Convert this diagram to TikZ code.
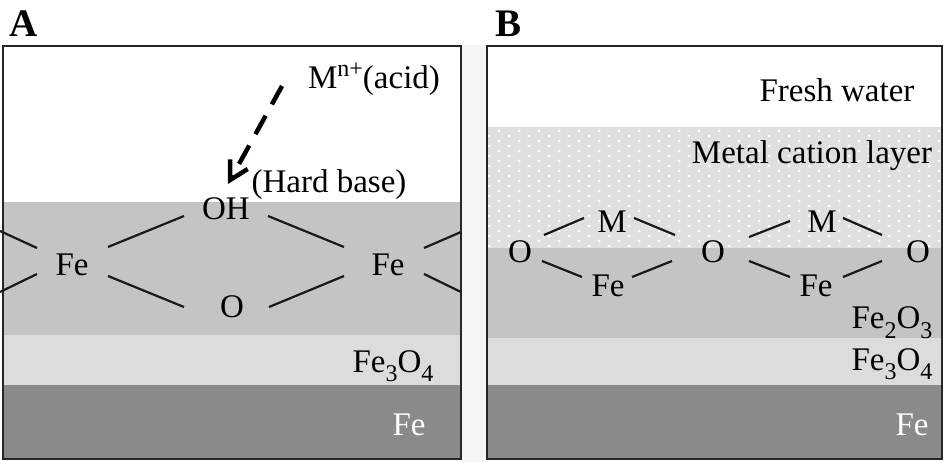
\documentclass[tikz,border=0pt]{standalone}
\usepackage{fontspec}
\setmainfont{Liberation Serif}
\usetikzlibrary{calc,arrows.meta,positioning}
\definecolor{oxide}{HTML}{C3C4C5}
\definecolor{magnetite}{HTML}{DCDCDC}
\definecolor{iron}{HTML}{8A8A8A}
\definecolor{cation}{HTML}{DFDFDF}
\newcommand{\lowr}[1]{\raisebox{-0.3em}{\fontsize{24}{24}\selectfont #1}}
\tikzset{
    chem/.style={inner sep=0pt, text height=22pt, text depth=0pt, font=\fontsize{33}{33}\selectfont, text=black},
    lbl/.style={inner sep=0pt, anchor=base, font=\fontsize{33}{33}\selectfont, text=black},
    panel/.style={draw=black!85, line width=2.2pt},
    bond/.style={line width=2.2pt, black!90},
    tag/.style={inner sep=0pt, font=\fontsize{39}{39}\selectfont\bfseries}
}
\begin{document}
\begin{tikzpicture}[x=1pt,y=-1pt]
    \useasboundingbox (0,0) rectangle (945,462);
    \fill[black!4] (462,45) rectangle (486,462);
    % panel A
    \fill[oxide] (3,202) rectangle (461,335);
    \fill[magnetite] (3,335) rectangle (461,385);
    \fill[iron] (3,385) rectangle (461,459);
    \draw[panel] (3,46) rectangle (461,459);
    % panel B
    \fill[cation] (487,127) rectangle (942,248);
    \begin{scope}
        \clip (487,127) rectangle (942,248);
        \foreach \r in {0,...,23}{
            \foreach \c in {0,...,23}{
                \fill[white] ({489+20*\c+10*mod(\r+1,2)},{131+5*\r}) circle (1.5pt);
            }
        }
    \end{scope}
    \fill[oxide] (487,248) rectangle (942,338);
    \fill[magnetite] (487,338) rectangle (942,385);
    \fill[iron] (487,385) rectangle (942,459);
    \draw[panel] (487,46) rectangle (942,459);
    % labels
    \node[tag] (tagA) at (24,24) {A};
    \node[tag] (tagB) at (508,24) {B};
    \node[lbl] (acid) at (374,89) {M\raisebox{0.38em}{\fontsize{24}{24}\selectfont n+}(acid)};
    \node[lbl] (hard) at (329,193) {(Hard base)};
    \node[lbl] (ma3) at (393,372) {Fe\lowr{3}O\lowr{4}};
    \node[lbl,text=white] (ma4) at (409,435) {Fe};
    \node[lbl] (fresh) at (837,102) {Fresh water};
    \node[lbl] (metal) at (812,164) {Metal cation layer};
    \node[lbl] (mb2) at (892,329) {Fe\lowr{2}O\lowr{3}};
    \node[lbl] (mb3) at (892,370) {Fe\lowr{3}O\lowr{4}};
    \node[lbl,text=white] (mb4) at (912,435) {Fe};
    % panel A bonds
    \node[chem] (oh) at (226,209) {OH};
    \node[chem] (oa) at (232,306) {O};
    \node[chem] (feA) at (72,265) {Fe};
    \node[chem] (feB) at (388,265) {Fe};
    \foreach \a/\ax/\ay/\b/\bx/\by in {feA/36/-18/oh/-42/7, feA/36/11/oa/-48/1, feB/-44/-18/oh/42/7, feB/-44/11/oa/37/1}{
        \draw[bond] ([shift={(\ax,\ay)}]\a.center) -- ([shift={(\bx,\by)}]\b.center);
    }
    \coordinate (e1) at (0,231);
    \coordinate (e2) at (0,292);
    \coordinate (e3) at (461,232);
    \coordinate (e4) at (461,292);
    \draw[bond] (e1) -- ([shift={(-35,-17)}]feA.center);
    \draw[bond] (e2) -- ([shift={(-35,9)}]feA.center);
    \draw[bond] (e3) -- ([shift={(36,-17)}]feB.center);
    \draw[bond] (e4) -- ([shift={(36,9)}]feB.center);
    \coordinate (tail) at (282,86);
    \coordinate (head) at (228,184);
    \draw[-{Straight Barb[length=18pt,width=20pt,line width=4.5pt]},line width=4.5pt,dash pattern=on 21pt off 13pt] (tail) -- (head);
    % panel B bonds
    \node[chem] (o1) at (520,252) {O};
    \node[chem] (o2) at (713,252) {O};
    \node[chem] (o3) at (918,252) {O};
    \node[chem] (m1) at (612,222) {M};
    \node[chem] (m2) at (822,222) {M};
    \node[chem] (f1) at (608,286) {Fe};
    \node[chem] (f2) at (816,286) {Fe};
    \foreach \a/\ax/\ay/\b/\bx/\by in {m1/-28/-4/o1/24/-17, m1/22/-4/o2/-38/-17, m2/-32/-1/o2/36/-15, m2/21/-4/o3/-36/-17, f1/-26/-9/o1/22/9, f1/24/-9/o2/-41/9, f2/-26/-9/o2/36/9, f2/27/-9/o3/-36/9}{
        \draw[bond] ([shift={(\ax,\ay)}]\a.center) -- ([shift={(\bx,\by)}]\b.center);
    }
\end{tikzpicture}
\end{document}
